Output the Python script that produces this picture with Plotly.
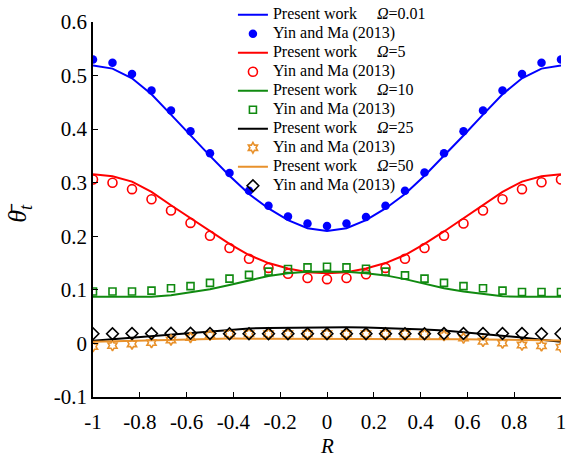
import plotly.graph_objects as go

# ---- data ----
R = [-1.0, -0.9167, -0.8333, -0.75, -0.6667, -0.5833, -0.5, -0.4167, -0.3333, -0.25, -0.1667, -0.0833,
     0.0, 0.0833, 0.1667, 0.25, 0.3333, 0.4167, 0.5, 0.5833, 0.6667, 0.75, 0.8333, 0.9167, 1.0]

pw_001 = [0.519, 0.513, 0.495, 0.465, 0.427, 0.388, 0.350, 0.313, 0.279, 0.252, 0.230, 0.215,
          0.210, 0.215, 0.230, 0.252, 0.279, 0.313, 0.350, 0.388, 0.427, 0.465, 0.495, 0.513, 0.519]
ym_001 = [0.530, 0.524, 0.503, 0.472, 0.435, 0.396, 0.355, 0.318, 0.285, 0.257, 0.237, 0.224,
          0.219, 0.224, 0.236, 0.257, 0.285, 0.319, 0.355, 0.396, 0.435, 0.472, 0.503, 0.524, 0.530]

pw_5 = [0.316, 0.312, 0.302, 0.283, 0.258, 0.234, 0.209, 0.186, 0.165, 0.150, 0.140, 0.133,
        0.131, 0.133, 0.140, 0.150, 0.165, 0.186, 0.209, 0.234, 0.258, 0.283, 0.302, 0.312, 0.316]
ym_5 = [0.306, 0.300, 0.288, 0.269, 0.248, 0.225, 0.201, 0.178, 0.158, 0.141, 0.130, 0.122,
        0.120, 0.122, 0.129, 0.141, 0.158, 0.178, 0.201, 0.224, 0.248, 0.269, 0.288, 0.301, 0.306]

pw_10 = [0.087, 0.087, 0.086, 0.087, 0.090, 0.095, 0.101, 0.109, 0.118, 0.126, 0.131, 0.134,
         0.134, 0.134, 0.131, 0.127, 0.120, 0.111, 0.103, 0.097, 0.092, 0.088, 0.087, 0.087, 0.087]
ym_10 = [0.097, 0.097, 0.097, 0.0985, 0.103, 0.107, 0.113, 0.121, 0.128, 0.134, 0.139, 0.142,
         0.143, 0.142, 0.1395, 0.134, 0.127, 0.121, 0.113, 0.107, 0.103, 0.0985, 0.096, 0.096, 0.096]

pw_25 = [0.005, 0.008, 0.011, 0.0135, 0.017, 0.020, 0.023, 0.026, 0.028, 0.029, 0.0295, 0.030,
         0.030, 0.030, 0.0298, 0.029, 0.028, 0.026, 0.024, 0.021, 0.018, 0.015, 0.011, 0.007, 0.003]
ym_star = [-0.006, -0.004, -0.001, 0.0015, 0.0065, 0.011, 0.0155, 0.018, 0.018, 0.018, 0.018, 0.018,
           0.018, 0.018, 0.018, 0.018, 0.018, 0.017, 0.0145, 0.010, 0.004, 0.0005, -0.003, -0.0045, -0.007]

pw_50 = [0.003, 0.004, 0.005, 0.006, 0.0075, 0.008, 0.0085, 0.009, 0.009, 0.009, 0.009, 0.009,
         0.009, 0.009, 0.009, 0.009, 0.009, 0.009, 0.0085, 0.008, 0.0075, 0.007, 0.0065, 0.006, 0.0055]
ym_diamond = [0.018, 0.018, 0.0185, 0.0185, 0.019, 0.019, 0.0185, 0.018, 0.018, 0.018, 0.018, 0.018,
              0.018, 0.018, 0.018, 0.018, 0.018, 0.018, 0.0185, 0.0185, 0.0185, 0.0185, 0.0185, 0.018, 0.018]

x_tickvals = [-1, -0.8, -0.6, -0.4, -0.2, 0, 0.2, 0.4, 0.6, 0.8, 1]
x_ticktext = ["-1", "-0.8", "-0.6", "-0.4", "-0.2", "0", "0.2", "0.4", "0.6", "0.8", "1"]
y_tickvals = [-0.1, 0, 0.1, 0.2, 0.3, 0.4, 0.5, 0.6]
y_ticktext = ["-0.1", "0", "0.1", "0.2", "0.3", "0.4", "0.5", "0.6"]

BLUE = "#0000FF"
RED = "#FF0000"
GREEN = "#108A10"
BLACK = "#000000"
ORANGE = "#E8912B"
FONT = "Liberation Serif"
GAP = "\u00a0" * 5
SPAN = '<span style="font-size:16px">{}</span>'

fig = go.Figure()

def line(y, color, label):
    fig.add_trace(go.Scatter(x=R, y=y, mode="lines", line=dict(color=color, width=2),
                             name=SPAN.format("Present work" + GAP + label)))

def pts(y, color, symbol, size, lw=1.6):
    fig.add_trace(go.Scatter(x=R, y=y, mode="markers", name=SPAN.format("Yin and Ma (2013)"),
                             marker=dict(color=color, symbol=symbol, size=size,
                                         line=dict(color=color, width=lw))))

line(pw_001, BLUE, "<i>Ω</i>=0.01")
pts(ym_001, BLUE, "circle", 8.5, 0)
line(pw_5, RED, "<i>Ω</i>=5")
pts(ym_5, RED, "circle-open", 9)
line(pw_10, GREEN, "<i>Ω</i>=10")
pts(ym_10, GREEN, "square-open", 7)
line(pw_25, BLACK, "<i>Ω</i>=25")
pts(ym_star, ORANGE, "hexagram-open", 8)
line(pw_50, ORANGE, "<i>Ω</i>=50")
pts(ym_diamond, BLACK, "diamond-open", 9)

fig.update_layout(
    width=566, height=459,
    margin=dict(l=93, r=0, t=22, b=62),
    paper_bgcolor="white", plot_bgcolor="white",
    font=dict(family=FONT, color="black", size=21),
    showlegend=True,
    legend=dict(x=0.299, y=1.058, xanchor="left", yanchor="top",
                bgcolor="rgba(0,0,0,0)", borderwidth=0, maxheight=459,
                font=dict(family=FONT, size=12, color="black"),
                tracegroupgap=0, itemwidth=30),
    xaxis=dict(range=[-1, 1], tickvals=x_tickvals, ticktext=x_ticktext,
               showline=True, linecolor="black", linewidth=1.5, mirror=False,
               ticks="inside", ticklen=5, tickwidth=1.2, tickcolor="black",
               showgrid=False, zeroline=False, ticklabeloverflow="allow",
               ticklabelstandoff=5,
               tickfont=dict(family=FONT, size=21, color="black")),
    yaxis=dict(range=[-0.1, 0.6], tickvals=y_tickvals, ticktext=y_ticktext,
               showline=True, linecolor="black", linewidth=1.5, mirror=False,
               ticks="inside", ticklen=5, tickwidth=1.2, tickcolor="black",
               showgrid=False, zeroline=False,
               tickfont=dict(family=FONT, size=21, color="black")),
    annotations=[
        dict(text="<i>R</i>", xref="paper", yref="paper", x=0.499, y=-0.1307,
             xanchor="center", yanchor="middle", showarrow=False, borderpad=0,
             font=dict(family=FONT, size=21, color="black")),
        dict(text="<i>θ\u0304</i><sub><i>t</i></sub>", xref="paper", yref="paper",
             x=-0.157, y=0.49, xanchor="center", yanchor="middle", showarrow=False,
             textangle=-90, font=dict(family=FONT, size=26, color="black")),
    ],
)

fig.write_html("out.html")
